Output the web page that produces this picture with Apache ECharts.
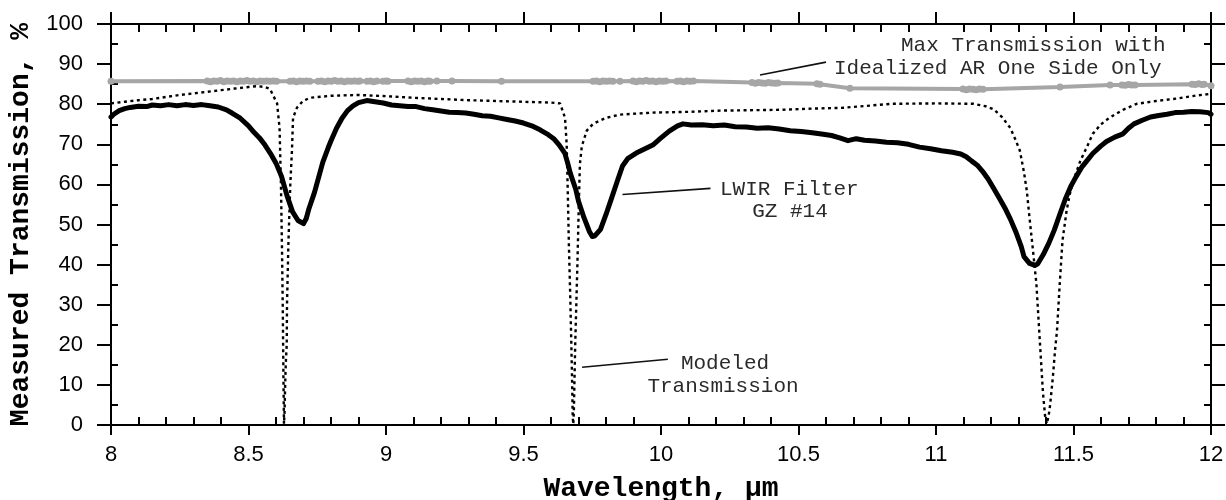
<!DOCTYPE html>
<html>
<head>
<meta charset="utf-8">
<script src="https://cdn.jsdelivr.net/npm/echarts@6/dist/echarts.min.js"></script>
<style>
  html, body { margin: 0; padding: 0; background: #fff; }
  #chart { width: 1226px; height: 500px; }
</style>
</head>
<body>
<div id="chart"></div>
<script>
// Measured transmission of LWIR filter GZ #14 (wavelength in µm, transmission in %)
const measuredWl = [
  8.00, 8.01, 8.03, 8.05, 8.07, 8.10, 8.13, 8.15, 8.18, 8.21, 8.24, 8.27, 8.30, 8.33, 8.36, 8.39,
  8.42, 8.44, 8.47, 8.50, 8.52, 8.54, 8.56, 8.58, 8.60, 8.62, 8.64, 8.66, 8.68, 8.70, 8.71, 8.72,
  8.74, 8.75, 8.77, 8.79, 8.80, 8.82, 8.84, 8.86, 8.88, 8.90, 8.93, 8.96, 8.99, 9.02, 9.05, 9.08,
  9.11, 9.14, 9.17, 9.20, 9.23, 9.26, 9.29, 9.32, 9.35, 9.38, 9.41, 9.44, 9.47, 9.50, 9.53, 9.56,
  9.59, 9.61, 9.63, 9.65, 9.66, 9.67, 9.69, 9.70, 9.72, 9.74, 9.75, 9.76, 9.78, 9.80, 9.82, 9.84,
  9.86, 9.88, 9.91, 9.94, 9.97, 10.00, 10.03, 10.06, 10.08, 10.11, 10.15, 10.19, 10.23, 10.27, 10.31, 10.35,
  10.39, 10.43, 10.47, 10.51, 10.55, 10.59, 10.62, 10.65, 10.68, 10.71, 10.74, 10.78, 10.82, 10.86, 10.90, 10.94,
  10.98, 11.02, 11.06, 11.09, 11.11, 11.13, 11.15, 11.17, 11.19, 11.21, 11.23, 11.25, 11.27, 11.29, 11.31, 11.32,
  11.34, 11.36, 11.37, 11.39, 11.41, 11.43, 11.45, 11.47, 11.49, 11.51, 11.53, 11.55, 11.57, 11.60, 11.62, 11.65,
  11.68, 11.70, 11.72, 11.75, 11.78, 11.81, 11.84, 11.87, 11.90, 11.93, 11.96, 11.99, 12.00
];
const measuredT = [
  76.8, 77.5, 78.4, 78.9, 79.2, 79.5, 79.4, 79.8, 79.6, 79.9, 79.6, 79.9, 79.7, 79.9, 79.6, 79.3,
  78.6, 77.8, 76.5, 74.6, 73.0, 71.6, 69.8, 67.7, 65.3, 62.0, 57.2, 53.2, 51.0, 50.2, 51.5, 54.0,
  58.0, 60.5, 65.5, 69.2, 70.9, 74.0, 76.5, 78.4, 79.6, 80.4, 80.9, 80.6, 80.3, 79.8, 79.6, 79.4,
  79.4, 78.9, 78.6, 78.3, 78.0, 77.9, 77.8, 77.5, 77.1, 77.0, 76.6, 76.2, 75.8, 75.3, 74.6, 73.6,
  72.4, 71.4, 69.8, 67.8, 65.5, 62.8, 58.8, 55.8, 51.7, 48.2, 47.0, 47.2, 48.8, 52.5, 56.5, 60.6,
  64.6, 66.5, 67.8, 68.8, 69.8, 71.6, 73.3, 74.6, 75.1, 74.8, 74.9, 74.6, 74.8, 74.4, 74.3, 74.0,
  74.1, 73.8, 73.4, 73.2, 72.9, 72.5, 72.2, 71.6, 70.9, 71.4, 71.0, 70.8, 70.5, 70.4, 70.0, 69.3,
  68.9, 68.4, 68.0, 67.6, 66.9, 65.8, 64.8, 63.2, 61.3, 59.0, 56.6, 54.2, 51.4, 48.2, 44.5, 42.0,
  40.3, 39.8, 40.2, 42.5, 45.3, 48.6, 52.5, 56.3, 59.5, 62.0, 64.3, 66.0, 67.7, 69.6, 70.7, 71.8,
  72.6, 74.0, 75.1, 76.0, 76.8, 77.2, 77.5, 77.9, 78.0, 78.2, 78.1, 77.9, 77.5
];

// Modeled transmission
const modeledWl = [
  8.00, 8.05, 8.10, 8.15, 8.20, 8.25, 8.30, 8.35, 8.40, 8.45, 8.50, 8.53, 8.56, 8.578, 8.604, 8.613,
  8.618, 8.622, 8.625, 8.627, 8.629, 8.631, 8.634, 8.636, 8.639, 8.640, 8.645, 8.652, 8.658, 8.662, 8.676, 8.698,
  8.724, 8.80, 8.90, 9.00, 9.10, 9.20, 9.30, 9.40, 9.50, 9.60, 9.633, 9.651, 9.657, 9.661, 9.665, 9.670,
  9.674, 9.677, 9.679, 9.681, 9.683, 9.685, 9.688, 9.692, 9.696, 9.700, 9.705, 9.712, 9.73, 9.753, 9.80, 9.85,
  9.97, 10.10, 10.215, 10.43, 10.55, 10.66, 10.84, 11.00, 11.135, 11.18, 11.21, 11.24, 11.27, 11.29, 11.305, 11.32,
  11.33, 11.34, 11.35, 11.365, 11.378, 11.389, 11.397, 11.403, 11.41, 11.415, 11.425, 11.433, 11.44, 11.45, 11.46, 11.475,
  11.487, 11.505, 11.525, 11.55, 11.57, 11.60, 11.63, 11.68, 11.73, 11.80, 11.875, 11.95, 12.00
];
const modeledT = [
  80.2, 80.6, 81.0, 81.3, 81.8, 82.3, 82.7, 83.1, 83.5, 83.9, 84.3, 84.5, 84.3, 83.8, 80.2, 74.0,
  60.0, 43.0, 27.0, 12.0, 0.3, 3.0, 12.0, 16.0, 20.0, 30.0, 45.0, 60.0, 68.4, 76.6, 79.1, 80.8,
  81.6, 82.1, 82.3, 82.0, 81.6, 81.3, 81.0, 80.8, 80.6, 80.4, 80.2, 76.6, 70.0, 58.0, 45.0, 32.0,
  20.0, 10.0, 2.0, 0.2, 3.0, 10.0, 20.0, 30.0, 40.0, 51.7, 65.0, 69.5, 73.4, 75.1, 76.6, 77.4,
  77.9, 78.1, 78.4, 78.6, 78.9, 79.1, 80.1, 80.2, 80.1, 79.5, 78.7, 76.8, 74.1, 71.0, 68.4, 63.0,
  58.5, 51.7, 45.3, 35.3, 20.4, 8.0, 2.0, 0.3, 2.5, 5.0, 12.0, 18.7, 23.5, 35.3, 46.0, 53.5,
  57.7, 62.0, 65.9, 69.5, 72.6, 75.0, 76.6, 78.6, 80.1, 80.8, 81.4, 82.2, 82.6
];

// Max transmission with idealized AR coating on one side only
const maxWl = [
  8.000,
  8.350, 8.362, 8.374, 8.386, 8.398, 8.410, 8.422, 8.434, 8.446, 8.458, 8.470, 8.482, 8.494, 8.506, 8.518, 8.530,
  8.542, 8.554, 8.566, 8.578, 8.590, 8.602,
  8.651, 8.663, 8.675, 8.687, 8.699, 8.711, 8.723,
  8.753, 8.765, 8.777, 8.789, 8.801, 8.813, 8.825, 8.837, 8.849, 8.861, 8.873, 8.885, 8.897, 8.905,
  8.931, 8.943, 8.955, 8.967,
  8.989, 9.000, 9.007,
  9.080, 9.092, 9.104, 9.116, 9.128, 9.140, 9.152, 9.160,
  9.185, 9.240, 9.420,
  9.753, 9.765, 9.777, 9.789, 9.801, 9.813, 9.825,
  9.851,
  9.898, 9.910, 9.922, 9.934, 9.946, 9.958, 9.970, 9.982, 9.994, 10.006, 10.018,
  10.058, 10.070, 10.082, 10.094, 10.106, 10.118,
  10.331, 10.343, 10.355, 10.367, 10.379, 10.391, 10.403, 10.415, 10.425,
  10.567, 10.578, 10.687,
  11.098, 11.110, 11.122, 11.134, 11.146, 11.158, 11.171,
  11.451, 11.633,
  11.676, 11.688, 11.700, 11.712, 11.724,
  11.931, 11.943, 11.955, 11.967, 11.975,
  12.000
];
const maxT = [
  85.7,
  85.8, 85.6, 85.8, 85.7, 85.9, 85.6, 85.8, 85.7, 85.8, 85.6, 85.8, 85.7, 85.9, 85.7, 85.8, 85.6,
  85.8, 85.7, 85.8, 85.7, 85.8, 85.7,
  85.7, 85.8, 85.6, 85.8, 85.7, 85.8, 85.7,
  85.7, 85.8, 85.6, 85.8, 85.7, 85.9, 85.7, 85.8, 85.6, 85.8, 85.7, 85.8, 85.7, 85.8,
  85.7, 85.8, 85.6, 85.8,
  85.7, 85.8, 85.7,
  85.8, 85.6, 85.8, 85.7, 85.8, 85.6, 85.8, 85.7,
  85.8, 85.8, 85.7,
  85.7, 85.8, 85.6, 85.8, 85.7, 85.8, 85.7,
  85.7,
  85.8, 85.6, 85.8, 85.7, 85.9, 85.7, 85.8, 85.6, 85.8, 85.7, 85.8,
  85.7, 85.8, 85.6, 85.8, 85.7, 85.8,
  85.4, 85.2, 85.4, 85.3, 85.2, 85.4, 85.3, 85.2, 85.3,
  85.1, 85.0, 84.0,
  83.8, 83.6, 83.8, 83.7, 83.6, 83.8, 83.7,
  84.3, 84.8,
  84.8, 84.7, 84.9, 84.8, 84.8,
  85.0, 84.9, 85.1, 84.9, 85.0,
  84.6
];

// Annotation leader lines: [[wl, T], [wl, T]]
const leaderMax = [[10.36, 87.3], [10.60, 90.5]];
const leaderMeasured = [[9.86, 57.5], [10.18, 59.0]];
const leaderModeled = [[9.713, 14.4], [10.025, 16.4]];

const zip = (xs, ys) => xs.map((x, i) => [x, ys[i]]);

const MONO = '"Liberation Mono", "Courier New", monospace';
const SANS = '"Liberation Sans", Arial, sans-serif';

const chart = echarts.init(document.getElementById('chart'), null, { renderer: 'canvas' });

const axisLine = { show: true, onZero: false, lineStyle: { color: '#000', width: 2 } };

function xAxisCfg(pos, showLabel) {
  return {
    type: 'value', position: pos, min: 8, max: 12, interval: 0.5,
    axisLine: axisLine,
    axisTick: { show: true, length: pos === 'top' ? 12 : 10, lineStyle: { color: '#000', width: 2 } },
    minorTick: { show: true, splitNumber: 5, length: -8, lineStyle: { color: '#000', width: 2 } },
    splitLine: { show: false },
    axisLabel: showLabel
      ? { show: true, color: '#000', fontFamily: SANS, fontSize: 22, margin: 19 }
      : { show: false },
    name: showLabel ? 'Wavelength, µm' : '',
    nameLocation: 'middle', nameGap: 50,
    nameTextStyle: { color: '#000', fontFamily: MONO, fontWeight: 'bold', fontSize: 28 }
  };
}
function yAxisCfg(pos, showLabel) {
  return {
    type: 'value', position: pos, min: 0, max: 100, interval: 10,
    axisLine: axisLine,
    axisTick: { show: true, length: 14, lineStyle: { color: '#000', width: 2 } },
    minorTick: { show: true, splitNumber: 2, length: -7, lineStyle: { color: '#000', width: 2 } },
    splitLine: { show: false },
    axisLabel: showLabel
      ? { show: true, color: '#000', fontFamily: SANS, fontSize: 22, margin: 28 }
      : { show: false },
    name: showLabel ? 'Measured Transmission, %' : '',
    nameLocation: 'middle', nameGap: 74, nameRotate: 90,
    nameTextStyle: { color: '#000', fontFamily: MONO, fontWeight: 'bold', fontSize: 28 }
  };
}

function leader(pts) {
  return {
    silent: true, symbol: ['none', 'none'], label: { show: false },
    lineStyle: { color: '#111', width: 1.6, type: 'solid' },
    data: [[{ coord: pts[0] }, { coord: pts[1] }]]
  };
}

function note(text, x, y, align) {
  return {
    type: 'text', x: x, y: y, silent: true,
    style: { text: text, fill: '#2a2a2a', font: '21px ' + MONO, textAlign: align || 'left', textVerticalAlign: 'middle' }
  };
}

chart.setOption({
  animation: false,
  backgroundColor: '#fff',
  grid: { left: 111, right: 15, top: 24, bottom: 75, containLabel: false, outerBoundsMode: 'none' },
  xAxis: [xAxisCfg('bottom', true), xAxisCfg('top', false)],
  yAxis: [yAxisCfg('left', true), yAxisCfg('right', false)],
  series: [
    {
      name: 'Max Transmission', type: 'line', xAxisIndex: 0, yAxisIndex: 0,
      data: zip(maxWl, maxT),
      symbol: 'circle', symbolSize: 7, showSymbol: true,
      itemStyle: { color: '#a6a6a6' },
      lineStyle: { color: '#a6a6a6', width: 4 },
      markLine: leader(leaderMax), z: 2
    },
    {
      name: 'Modeled Transmission', type: 'line', xAxisIndex: 0, yAxisIndex: 0,
      data: zip(modeledWl, modeledT), symbol: 'none',
      lineStyle: { color: '#000', width: 2.4, type: [3, 3.5] },
      markLine: leader(leaderModeled), z: 3
    },
    {
      name: 'LWIR Filter GZ #14', type: 'line', xAxisIndex: 0, yAxisIndex: 0,
      data: zip(measuredWl, measuredT), symbol: 'none',
      lineStyle: { color: '#000', width: 5, join: 'round', cap: 'round' },
      markLine: leader(leaderMeasured), z: 4
    }
  ],
  graphic: [
    note('Max Transmission with', 901, 45),
    note('Idealized AR One Side Only', 834, 68),
    note('LWIR Filter', 720, 189),
    note('GZ #14', 790, 211, 'center'),
    note('Modeled', 725, 363, 'center'),
    note('Transmission', 723, 386, 'center')
  ]
});
</script>
</body>
</html>
